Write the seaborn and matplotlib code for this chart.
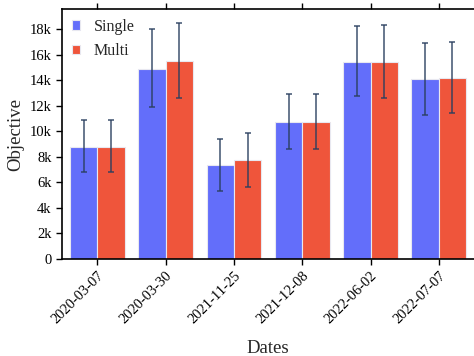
import numpy as np
import pandas as pd
import matplotlib
matplotlib.use("Agg")
import matplotlib.pyplot as plt
import seaborn as sns

dates = ["2020-03-07", "2020-03-30", "2021-11-25", "2021-12-08", "2022-06-02", "2022-07-07"]
series = ["Single", "Multi"]
single_mean = [8800, 14870, 7330, 10750, 15450, 14060]
single_low = [6780, 11870, 5350, 8630, 12730, 11300]
single_high = [10900, 17970, 9390, 12940, 18200, 16900]
multi_mean = [8800, 15520, 7720, 10750, 15450, 14140]
multi_low = [6780, 12620, 5630, 8630, 12620, 11400]
multi_high = [10850, 18500, 9880, 12940, 18300, 16950]
yticks = [0, 2000, 4000, 6000, 8000, 10000, 12000, 14000, 16000, 18000]
ytick_labels = ["0", "2k", "4k", "6k", "8k", "10k", "12k", "14k", "16k", "18k"]
colors = ["#636EFA", "#EF553B"]

df = pd.DataFrame({
    "Dates": dates * 2,
    "Objective": single_mean + multi_mean,
    "Series": ["Single"] * len(dates) + ["Multi"] * len(dates),
})

sns.set_theme(style="white")
plt.rcParams["font.family"] = ["Liberation Serif", "DejaVu Serif"]

fig = plt.figure(figsize=(4.74, 3.56), dpi=100)
ax = fig.add_axes([0.131, 0.2725, 0.869, 0.702])

sns.barplot(data=df, x="Dates", y="Objective", hue="Series", hue_order=series,
            palette=colors, errorbar=None, width=0.8, ax=ax,
            edgecolor="#e8e8f0", linewidth=0.8, saturation=1)

lows = [single_low, multi_low]
highs = [single_high, multi_high]
means = [single_mean, multi_mean]
for cont, m, lo, hi in zip(ax.containers, means, lows, highs):
    xs = [p.get_x() + p.get_width() / 2 for p in cont.patches]
    m = np.array(m); lo = np.array(lo); hi = np.array(hi)
    ax.errorbar(xs, m, yerr=[m - lo, hi - m], fmt="none", ecolor="#2a3f5f",
                elinewidth=1.1, capsize=2.5, capthick=1.1, alpha=0.9)

ax.set_xlim(-0.515, 5.515)
ax.set_ylim(0, 19560)
ax.set_yticks(yticks)
ax.set_yticklabels(ytick_labels, fontsize=10.5)
ax.set_xticks(range(len(dates)))
ax.set_xticklabels(dates, rotation=45, ha="right", rotation_mode="anchor", fontsize=10.5)
ax.set_xlabel("Dates", fontsize=13.5, labelpad=10)
ax.set_ylabel("Objective", fontsize=13.5)

for s in ["left", "top", "bottom"]:
    ax.spines[s].set_visible(True)
    ax.spines[s].set_color("black")
    ax.spines[s].set_linewidth(1.2)
ax.spines["right"].set_visible(False)
ax.tick_params(axis="both", which="major", direction="out", length=4, width=1, colors="black",
               bottom=True, left=True, top=True, labeltop=False)

leg = ax.legend(loc="upper left", frameon=False,
                prop={"family": ["Liberation Serif", "DejaVu Serif"], "size": 11.5},
                handlelength=0.5, handleheight=0.5,
                handletextpad=0.9, labelspacing=0.55, borderaxespad=0.2, borderpad=0.4)
leg.set_title(None)

fig.savefig("out.png", dpi=100)
